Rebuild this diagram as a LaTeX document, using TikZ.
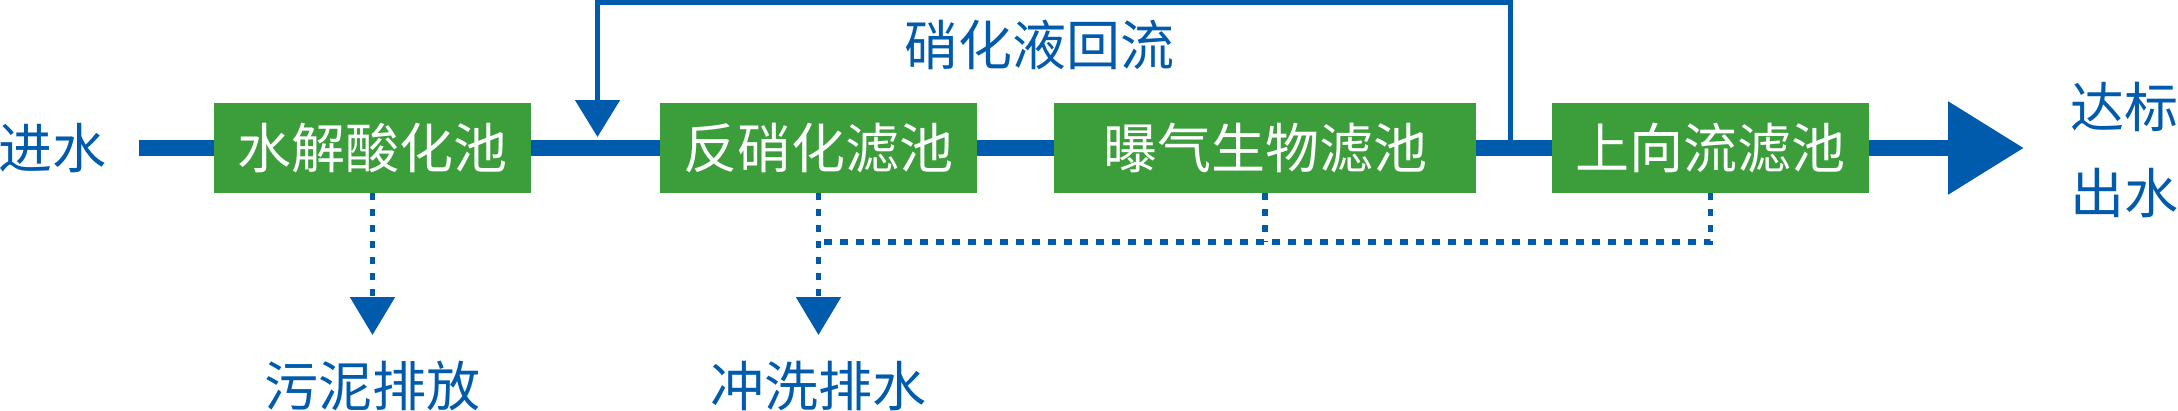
\documentclass[tikz,border=0pt]{standalone}
\usepackage{fontspec}
\newfontfamily\cjk{Noto Sans CJK SC}
\usetikzlibrary{arrows.meta}
\definecolor{flowblue}{HTML}{005BAC}
\definecolor{boxgreen}{HTML}{3B9E3A}
\begin{document}
\begin{tikzpicture}[x=1pt,y=-1pt,
  box/.style={fill=boxgreen, draw=none, minimum height=90pt, text=white,
    font=\cjk\fontsize{54}{60}\selectfont, inner sep=0pt, outer sep=0pt},
  lbl/.style={text=flowblue, font=\cjk\fontsize{54}{86}\selectfont, inner sep=0pt, align=center},
  mainflow/.style={draw=flowblue, line width=16pt},
  recyc/.style={draw=flowblue, line width=5pt},
  dashline/.style={draw=flowblue, line width=5.5pt, dash pattern=on 7.3pt off 8.7pt},
  bigtip/.style={-{Triangle[length=76pt,width=89pt]}},
  smalltip/.style={-{Triangle[length=37pt,width=44pt]}},
  droptip/.style={-{Triangle[length=38pt,width=44pt]}}
]
\useasboundingbox (0,0) rectangle (2178,410);

% boxes
\node[box, minimum width=317pt] (b1) at (372.5,148) {水解酸化池};
\node[box, minimum width=317pt] (b2) at (818.5,148) {反硝化滤池};
\node[box, minimum width=422pt] (b3) at (1265,148) {曝气生物滤池};
\node[box, minimum width=317pt] (b4) at (1710.5,148) {上向流滤池};

% labels
\node[lbl, anchor=west] (in) at (-2,148) {进水};
\node[lbl] (rec) at (1039,45) {硝化液回流};
\node[lbl] (out) at (2124.5,150) {达标\\出水};
\node[lbl] (sludge) at (372.8,386) {污泥排放};
\node[lbl] (wash) at (818.6,386) {冲洗排水};

% coordinates
\coordinate (start) at (139,148);
\coordinate (tipout) at (2024,148);
\coordinate (rs) at (1510.3,148);
\coordinate (rt1) at (1510.3,2.5);
\coordinate (rt2) at (597.5,2.5);
\coordinate (rin) at (597.5,137);
\coordinate (d1) at (372.5,335);
\coordinate (d2) at (818.5,335);
\coordinate (j2) at (818.5,242);
\coordinate (j3) at (1265,242);

% main flow
\draw[mainflow] (start) -- (b1.west);
\draw[mainflow] (b1.east) -- (b2.west);
\draw[mainflow] (b2.east) -- (b3.west);
\draw[mainflow] (b3.east) -- (b4.west);
\draw[mainflow, bigtip] (b4.east) -- (tipout);

% recycle
\draw[recyc, smalltip] (rs) -- (rt1) -- (rt2) -- (rin);

% dashed discharge lines
\draw[dashline, droptip] (b1.south) -- (d1);
\draw[dashline, droptip] (b2.south) -- (d2);
\draw[dashline] (b4.south) |- (j2);
\draw[dashline] (b3.south) -- (j3);
\end{tikzpicture}
\end{document}
